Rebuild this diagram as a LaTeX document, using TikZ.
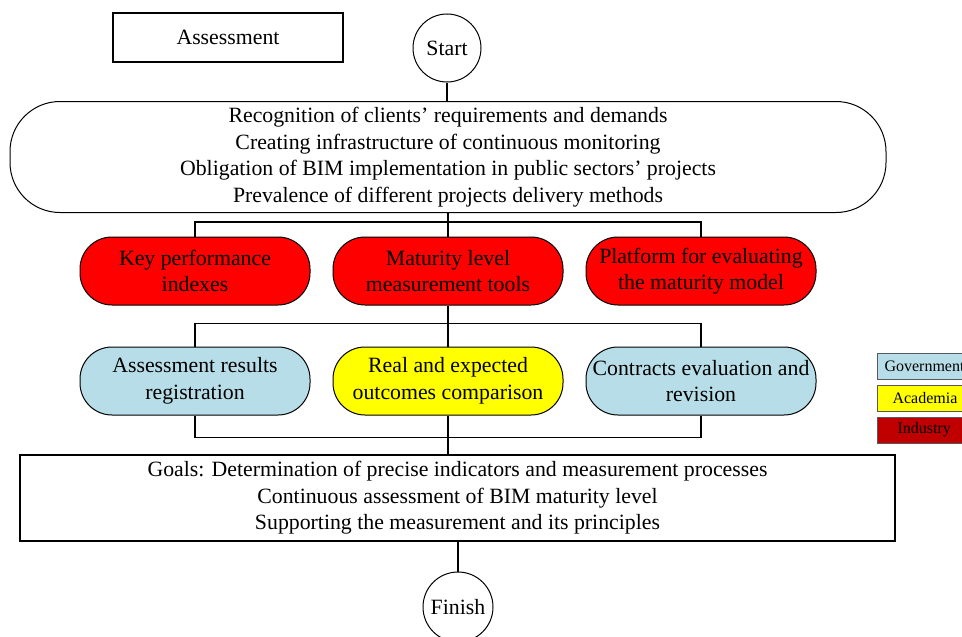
\documentclass[tikz,border=0pt]{standalone}
\usepackage{fontspec}
\setmainfont{Liberation Serif}
\definecolor{govblue}{RGB}{183,222,232}
\definecolor{acyellow}{RGB}{255,255,0}
\definecolor{indred}{RGB}{255,0,0}
\definecolor{legred}{RGB}{192,0,0}
\begin{document}
\begin{tikzpicture}[x=1pt,y=-1pt,
  txt/.style={font=\fontsize{21.8}{26.6}\selectfont,align=center,text=black},
  pill/.style={txt,draw=black,line width=1pt,rounded corners=32pt,minimum width=230pt,minimum height=68pt,inner sep=0pt},
  conn/.style={draw=black,line width=1.5pt},
  legbox/.style={draw=gray!70!black,line width=1pt,minimum width=100pt,minimum height=26pt,inner sep=0pt},
  legtxt/.style={font=\fontsize{16}{18}\selectfont,anchor=west,text=black}]
\useasboundingbox (0,0) rectangle (962,637);
\clip (0,0) rectangle (962,637);
% title box
\node[txt,draw=black,line width=1.5pt,minimum width=230pt,minimum height=49pt,inner sep=0pt] (assess) at (228,37.5) {Assessment};
% start
\node[txt,circle,draw=black,line width=1pt,minimum size=68pt,inner sep=0pt] (start) at (447,48) {Start};
% top rounded box
\node[txt,draw=black,line width=1pt,rounded corners=50pt,minimum width=876pt,minimum height=111pt,inner sep=0pt] (top) at (448,157)
 {Recognition of clients’ requirements and demands\\Creating infrastructure of continuous monitoring\\Obligation of BIM implementation in public sectors’ projects\\Prevalence of different projects delivery methods};
% red row
\node[pill,fill=indred] (k1) at (195,271) {Key performance\\indexes};
\node[pill,fill=indred] (k2) at (448,271) {Maturity level\\measurement tools};
\node[pill,fill=indred] (k3) at (701,271) {Platform for evaluating\\the maturity model};
% second row
\node[pill,fill=govblue] (a1) at (195,381) {Assessment results\\registration};
\node[pill,fill=acyellow] (a2) at (448,381) {Real and expected\\outcomes comparison};
\node[pill,fill=govblue] (a3) at (701,381) {Contracts evaluation and\\revision};
% goals
\node[txt,draw=black,line width=1.5pt,minimum width=875pt,minimum height=86pt,inner sep=0pt] (goals) at (457.5,498)
 {Goals: Determination of precise indicators and measurement processes\\Continuous assessment of BIM maturity level\\Supporting the measurement and its principles};
% finish
\node[txt,circle,draw=black,line width=1pt,minimum size=70pt,inner sep=0pt] (finish) at (458,607) {Finish};
% connectors
\draw[conn] (start) -- (start |- top.north);
\draw[conn] (top.south) -- ++(0,9) coordinate (b1);
\draw[conn] (k1.north) |- (b1) -| (k3.north);
\draw[conn] (b1) -- (k2.north);
\draw[conn] (k2.south) -- ++(0,18) coordinate (b2);
\draw[conn] (a1.north) |- (b2) -| (a3.north);
\draw[conn] (b2) -- (a2.north);
\draw[conn] (a2.south) -- ++(0,22) coordinate (b3);
\draw[conn] (a1.south) |- (b3) -| (a3.south);
\draw[conn] (b3) -- (goals.north -| b3);
\draw[conn] (goals.south -| finish) -- (finish.north);
% legend
\node[legbox,fill=govblue,anchor=north west] (lg) at (877,353) {};
\node[legbox,fill=acyellow,anchor=north west] (la) at (877,385) {};
\node[legbox,fill=legred,anchor=north west] (li) at (877,417) {};
\node[legtxt] (lgt) at (881,366) {Government};
\node[legtxt] (lat) at (889,398) {Academia};
\node[legtxt] (lit) at (894,430) {Industry};
\end{tikzpicture}
\end{document}
